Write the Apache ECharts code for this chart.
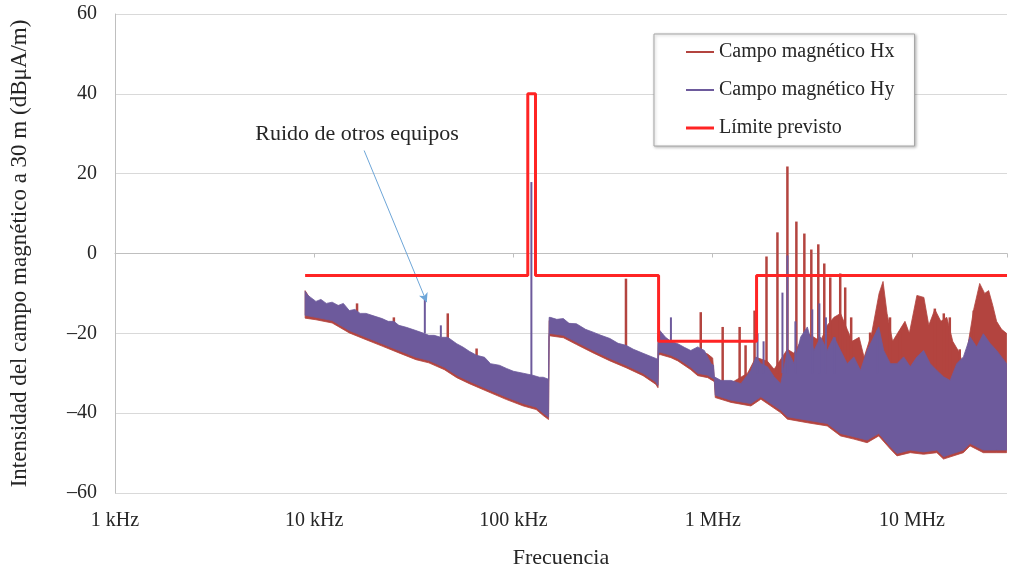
<!DOCTYPE html>
<html><head><meta charset="utf-8">
<script src="https://cdn.jsdelivr.net/npm/echarts@6/dist/echarts.min.js"></script>
<style>html,body{margin:0;padding:0;background:#fff}#c{width:1010px;height:576px}</style>
</head><body><div id="c"></div>
<script>
// Frequencies in kHz, levels in dBµA/m
const xTickLabels = {1:'1 kHz',10:'10 kHz',100:'100 kHz',1000:'1 MHz',10000:'10 MHz'};
const seriesNames = ['Campo magnético Hx','Campo magnético Hy','Límite previsto'];

const limitFreq  = [9, 118, 118, 129, 129, 535, 535, 1660, 1660, 30000];
const limitLevel = [-5.5, -5.5, 40, 40, -5.5, -5.5, -22, -22, -5.5, -5.5];

// Hy (purple) envelope
const hyUpper = [[9.0,-9.5],[9.3,-10.5],[9.6,-11],[10.2,-12],[10.8,-11.5],[11.5,-12.5],[12.3,-12.2],[13.2,-13],[14,-12.5],[15,-14.3],[16,-14],[17,-15],[18.2,-15],[19.5,-15.5],[21.9,-16.3],[23.5,-17],[25.1,-17],[26.6,-18],[29,-18.5],[32.4,-19.3],[35.5,-20],[37.6,-20.5],[40,-20.5],[43.2,-21],[46.8,-21],[51.9,-22.6],[56,-23.5],[60,-24.5],[65.3,-25.5],[71.6,-26],[76.7,-27.6],[85,-28],[92.3,-28.8],[100,-29.5],[112,-30],[125,-30.5],[135,-31],[141,-31],[150,-31.5],
  [151,-16],[153,-16],[165,-16.5],[178,-16.3],[190,-17.5],[207,-17.6],[230,-19],[251,-19.7],[275,-20.5],[305,-21.3],[335,-22.5],[367,-23],[400,-24],[447,-25],[490,-25.8],[519,-26.3],[530,-26.5],
  [532,-20],[543,-19.3],[580,-21],[617,-22],[668,-22.6],[720,-23.5],[776,-24.3],[841,-23.4],[908,-24.3],[981,-27.6],[1010,-28],[1019,-30.9],[1101,-31.8],[1235,-31.8],[1386,-32.6],[1555,-29.3],[1647,-25.9],[1745,-27.6],[1884,-28.4],[2033,-30.9],[2196,-32.6],[2371,-24.3],[2560,-27.6],[2766,-20.9],[2985,-18.4],[3223,-24.3],[3480,-20.9],[3758,-24.3],[4058,-20.9],[4382,-24.3],[4732,-27.6],[5110,-25.9],[5517,-29.3],[5957,-24.3],[6432,-20.9],[6813,-18.4],[7216,-24.3],[7792,-27.6],[8414,-27.6],[9085,-25.9],[9810,-28.4],[10593,-25.9],[11439,-24.3],[12352,-27.6],[13335,-29.3],[14400,-30.9],[15549,-31.8],[16788,-27.6],[18128,-25.9],[19575,-20.9],[21135,-23.4],[22822,-20.1],[24643,-22.5],[26607,-24.3],[29854,-27.6]];
const hyLower = [[9.0,-15.5],[10.2,-16],[12.3,-16.8],[15,-19.3],[18.2,-21],[21.9,-22.6],[26.6,-24.3],[32.4,-26],[37.6,-26.8],[45,-28.5],[51.9,-30.5],[60,-32],[76.7,-34.3],[92.3,-36],[112,-37.6],[130,-38.5],[141,-40],[150,-41],
  [151,-20],[178,-20.5],[207,-22.2],[251,-24.3],[305,-26.3],[367,-28],[447,-30],[519,-32.2],[530,-33],
  [532,-33],[535,-25],[543,-24.7],[617,-25.5],[668,-26.3],[776,-28.5],[841,-30],[944,-30.5],[1019,-31.5],[1030,-35.5],[1235,-36.75],[1555,-37.6],[1745,-35.9],[2196,-39.25],[2371,-40.9],[2985,-41.75],[3758,-42.6],[4382,-45.1],[5110,-45.9],[5957,-46.75],[6813,-45.1],[7792,-48.4],[8414,-50.1],[9810,-49.25],[11439,-49.7],[13335,-49.25],[14400,-50.9],[18128,-49.25],[19575,-47.6],[22822,-49.25],[26607,-49.25],[29854,-49.25]];
const hySpikes = [[35.9,-11.3,-20],[43.2,-18,-21],[123,17.9,-31],[617,-16,-22],[1679,-20,-30],[1800,-22,-30],[2239,-9.8,-30],[2371,-0.5,-30],[2600,-17,-30],[3160,-14,-30],[3430,-12.5,-30],[3700,-16,-30],[4100,-21,-30],[6683,-19.3,-30]];

// Hx (red-brown) envelope
const hxUpper = [[9.0,-9.3],[9.6,-11.5],[10.2,-12.5],[11.5,-13],[12.3,-13],[14,-13.2],[15,-15],[17,-15.8],[18.2,-15.8],[21.9,-17],[25.1,-17.8],[26.6,-18.7],[32.4,-20],[37.6,-21.2],[43.2,-21.7],[51.9,-23.3],[60,-25.2],[76.7,-28.3],[92.3,-29.5],[112,-30.7],[141,-31.7],[150,-32],
  [151,-16.8],[178,-17],[207,-18.3],[251,-20.4],[305,-22],[367,-23.7],[447,-25.7],[519,-27],[530,-27.2],
  [532,-20.7],[543,-20],[617,-22.7],[668,-23.3],[776,-25],[841,-24.2],[944,-25.2],[1000,-26.2],[1019,-31.5],[1230,-32.5],[1496,-30],[1647,-26],[1884,-27],[2033,-29],[2371,-24],[2560,-25],[2766,-22],[2985,-20],[3480,-22],[3758,-18],[4058,-16],[4382,-15],[4732,-19],[5010,-22],[5433,-21],[5754,-26],[6280,-20],[6839,-10],[7161,-7],[7500,-15],[8000,-22],[8710,-19],[9226,-17],[9700,-20],[10590,-10.5],[11480,-11],[12150,-18],[13030,-14],[13970,-17],[14960,-16],[16030,-22],[17380,-25],[18400,-30],[19230,-22],[20420,-14],[21880,-7.5],[23180,-10],[24270,-9.3],[25450,-13],[26610,-17],[28180,-19],[29850,-20]];
const hxLower = [[9.0,-16.2],[10.2,-16.6],[12.3,-17.4],[15,-19.9],[18.2,-21.6],[21.9,-23.2],[26.6,-24.9],[32.4,-26.6],[37.6,-27.4],[45,-29.1],[51.9,-31.1],[60,-32.6],[76.7,-34.9],[92.3,-36.6],[112,-38.2],[130,-39.1],[141,-40.6],[150,-41.6],
  [151,-20.6],[178,-21.1],[207,-22.8],[251,-24.9],[305,-26.9],[367,-28.6],[447,-30.6],[519,-32.8],[530,-33.6],
  [532,-33.6],[535,-25.6],[543,-25.3],[617,-26.1],[668,-26.9],[776,-29.1],[841,-30.6],[944,-31.1],[1019,-32.1],[1030,-36.1],[1235,-37.3],[1555,-38.2],[1745,-36.5],[2196,-39.9],[2371,-41.5],[2985,-42.4],[3758,-43.2],[4382,-45.7],[5110,-46.5],[5957,-47.4],[6813,-45.7],[7792,-49],[8414,-50.7],[9810,-49.9],[11439,-50.3],[13335,-49.9],[14400,-51.5],[18128,-49.9],[19575,-48.2],[22822,-49.9],[26607,-49.9],[29854,-49.9]];
const hxSpikes = [[16.4,-12.5,-16],[25.1,-16,-19],[46.8,-15,-22],[65.3,-23.8,-27],[367,-6.3,-24],[871,-14.7,-25],[1122,-18.4,-32],[1365,-18.4,-32],[1462,-23,-32],[1622,-14.3,-30],[1862,-0.75,-30],[2113,5.3,-30],[2371,21.8,-30],[2630,8,-30],[2884,5,-30],[3126,1,-30],[3388,2.3,-30],[3631,-2.5,-30],[3890,-6,-30],[4365,-5,-30],[4624,-8.5,-30],[4955,-16,-30],[6166,-19.8,-30],[7762,-16,-30],[8710,-19.8,-30],[13030,-13.8,-30],[14450,-15,-30],[15490,-16,-30],[17380,-24,-35],[20420,-14.3,-30]];

// Annotation: text anchor and arrow (from -> to)
const noteText = 'Ruido de otros equipos';
const notePos = [16.4, 30];
const arrowFrom = [17.8, 25.8];
const arrowTo = [36.7, -12.2];

const FONT = '"Liberation Serif", "DejaVu Serif", serif';
const colHx = '#b3443f', colHy = '#6d5a9c', colLim = '#ff2424';

function bandSeries(name, color, upper, lower, spikes, z, spikeW) {
  const poly = upper.concat(lower.slice().reverse());
  return {
    name, type: 'custom', coordinateSystem: 'cartesian2d', z, clip: true,
    itemStyle: { color },
    data: [upper[0]],
    encode: { x: 0, y: 1 },
    renderItem(params, api) {
      const children = [{
        type: 'polygon',
        shape: { points: poly.map(p => api.coord(p)) },
        style: { fill: color, stroke: color, lineWidth: 0.8 }
      }];
      spikes.forEach(s => {
        const a = api.coord([s[0], s[1]]), b = api.coord([s[0], s[2]]);
        children.push({ type: 'line', shape: { x1: a[0], y1: a[1], x2: b[0], y2: b[1] },
          style: { stroke: color, lineWidth: spikeW } });
      });
      return { type: 'group', children };
    }
  };
}

const chart = echarts.init(document.getElementById('c'));
chart.setOption({
  animation: false,
  backgroundColor: '#fff',
  textStyle: { fontFamily: FONT, color: '#262626' },
  grid: { left: 115, right: 0, top: 14, bottom: 83 },
  legend: {
    orient: 'vertical', left: 654, top: 34,
    padding: [7, 20, 7, 32], itemGap: 16,
    itemWidth: 28, itemHeight: 3,
    backgroundColor: '#fff', borderColor: '#a6a6a6', borderWidth: 1,
    shadowColor: 'rgba(0,0,0,0.25)', shadowBlur: 3, shadowOffsetX: 1, shadowOffsetY: 1,
    textStyle: { fontFamily: FONT, fontSize: 20, color: '#262626', lineHeight: 22 },
    data: [
      { name: seriesNames[0], icon: 'path://M0 0H28V2H0Z' },
      { name: seriesNames[1], icon: 'path://M0 0H28V2H0Z' },
      { name: seriesNames[2], icon: 'rect' }
    ]
  },
  xAxis: {
    type: 'log', logBase: 10, min: 1, max: 30000,
    name: 'Frecuencia', nameLocation: 'middle', nameGap: 54,
    nameTextStyle: { fontFamily: FONT, fontSize: 22, color: '#262626' },
    axisLine: { show: true, lineStyle: { color: '#bfbfbf', width: 1 } },
    axisTick: { show: true, length: 4, lineStyle: { color: '#bfbfbf' } },
    splitLine: { show: false },
    minorTick: { show: false },
    axisLabel: {
      fontFamily: FONT, fontSize: 20, color: '#262626', margin: 18,
      formatter: v => xTickLabels[Math.round(v)] && Math.abs(v - Math.round(v)) < 1e-6 ? xTickLabels[Math.round(v)] : ''
    }
  },
  yAxis: {
    type: 'value', min: -60, max: 60, interval: 20,
    name: 'Intensidad del campo magnético a 30 m (dBμA/m)',
    nameLocation: 'middle', nameGap: 84,
    nameTextStyle: { fontFamily: FONT, fontSize: 23, color: '#262626' },
    axisLine: { show: true, lineStyle: { color: '#bfbfbf', width: 1 } },
    axisTick: { show: false },
    splitLine: { show: true, lineStyle: { color: '#d9d9d9', width: 1 } },
    axisLabel: {
      fontFamily: FONT, fontSize: 20, color: '#262626', margin: 18,
      formatter: v => v < 0 ? '\u2013' + Math.abs(v) : String(v)
    }
  },
  series: [
    bandSeries(seriesNames[0], colHx, hxUpper, hxLower, hxSpikes, 2, 2.5),
    bandSeries(seriesNames[1], colHy, hyUpper, hyLower, hySpikes, 3, 2),
    {
      name: seriesNames[2], type: 'line', z: 5, symbol: 'none',
      data: limitFreq.map((f, i) => [f, limitLevel[i]]),
      lineStyle: { color: colLim, width: 3 }, itemStyle: { color: colLim },
      markLine: {
        silent: true, symbol: ['none', 'arrow'], symbolSize: [7, 9],
        lineStyle: { color: '#6ea6d8', width: 1, type: 'solid' },
        label: { show: false },
        data: [[{ coord: arrowFrom }, { coord: arrowTo }]]
      },
      markPoint: {
        silent: true, symbol: 'circle', symbolSize: 0,
        label: { show: true, position: 'inside', formatter: noteText, fontFamily: FONT, fontSize: 22, color: '#262626' },
        data: [{ coord: notePos }]
      }
    }
  ]
});
</script></body></html>
